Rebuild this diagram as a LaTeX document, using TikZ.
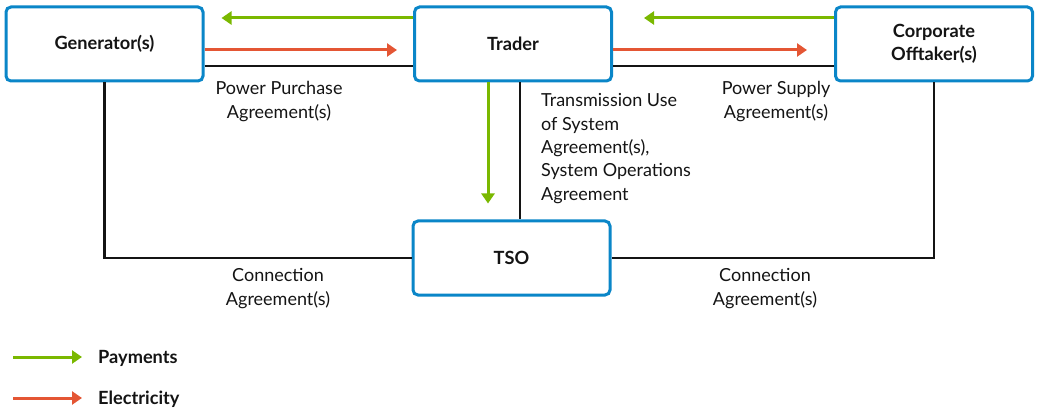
\documentclass[tikz,border=0pt]{standalone}
\usepackage{fontspec}
\setmainfont{Lato}
\usetikzlibrary{arrows.meta}
\definecolor{boxblue}{RGB}{10,134,200}
\definecolor{paygreen}{RGB}{122,184,0}
\definecolor{elecred}{RGB}{228,86,52}
\definecolor{ink}{RGB}{20,20,20}
\begin{document}
\begin{tikzpicture}[x=1pt,y=-1pt,
  party/.style={draw=boxblue, line width=3pt, rounded corners=5pt, fill=white,
    minimum width=197pt, minimum height=74pt, align=center,
    font=\fontsize{18.2}{23}\selectfont\bfseries, text=ink},
  agreement/.style={font=\fontsize{18}{23.4}\selectfont, text=ink, inner sep=0pt},
  contract/.style={draw=ink, line width=2.8pt},
  payflow/.style={draw=paygreen, line width=3pt, -{Triangle[length=10pt,width=13pt]}},
  elecflow/.style={draw=elecred, line width=3pt, -{Triangle[length=10pt,width=13pt]}},
  legendtext/.style={font=\fontsize{18.2}{22}\selectfont\bfseries, text=ink, anchor=west, inner sep=0pt}]
\useasboundingbox (0,0) rectangle (1037,409);

% the four parties
\node[party] (gen)    at (104.5,44)  {Generator(s)};
\node[party] (trader) at (513,44)    {Trader};
\node[party] (corp)   at (934,44)    {Corporate\\Offtaker(s)};
\node[party] (tso)    at (511.5,258) {TSO};

% contract lines
\draw[contract] ([yshift=-22pt]gen.east) -- ([yshift=-22pt]trader.west);
\draw[contract] ([yshift=-22pt]trader.east) -- ([yshift=-22pt]corp.west);
\draw[contract] ([xshift=7pt]trader.south) -- ([xshift=7pt]trader.south |- tso.north);
\draw[contract] (gen.south) |- (tso.west);
\draw[contract] (corp.south) |- (tso.east);

% money and energy flows
\draw[payflow]  ([yshift=26pt]trader.west) -- ([yshift=26pt,xshift=17pt]gen.east);
\draw[elecflow] ([yshift=-6pt]gen.east) -- ([yshift=-6pt,xshift=-16pt]trader.west);
\draw[payflow]  ([yshift=26pt]corp.west) -- ([yshift=26pt,xshift=31pt]trader.east);
\draw[elecflow] ([yshift=-6pt]trader.east) -- ([yshift=-6pt,xshift=-27pt]corp.west);
\draw[payflow]  ([xshift=-25pt]trader.south) -- ([xshift=-25pt,yshift=16pt]trader.south |- tso.north);

% agreement labels
\node[agreement, align=center] (ppa)  at (279,101.5) {Power Purchase\\Agreement(s)};
\node[agreement, align=center] (psa)  at (776,101.5) {Power Supply\\Agreement(s)};
\node[agreement, align=left, anchor=west] (tuos) at (541,148.5)
  {Transmission Use\\of System\\Agreement(s),\\System Operations\\Agreement};
\node[agreement, align=center] (cong) at (278,288.5) {Connection\\Agreement(s)};
\node[agreement, align=center] (conc) at (765,288.5) {Connection\\Agreement(s)};

% legend
\node[legendtext] (legpay)  at (98,358) {Payments};
\node[legendtext] (legelec) at (98,399) {Electricity};
\coordinate (paystart)  at (13,357);
\coordinate (payend)    at (82,357);
\coordinate (elecstart) at (13,398);
\coordinate (elecend)   at (82,398);
\draw[payflow]  (paystart)  -- (payend);
\draw[elecflow] (elecstart) -- (elecend);
\end{tikzpicture}
\end{document}
